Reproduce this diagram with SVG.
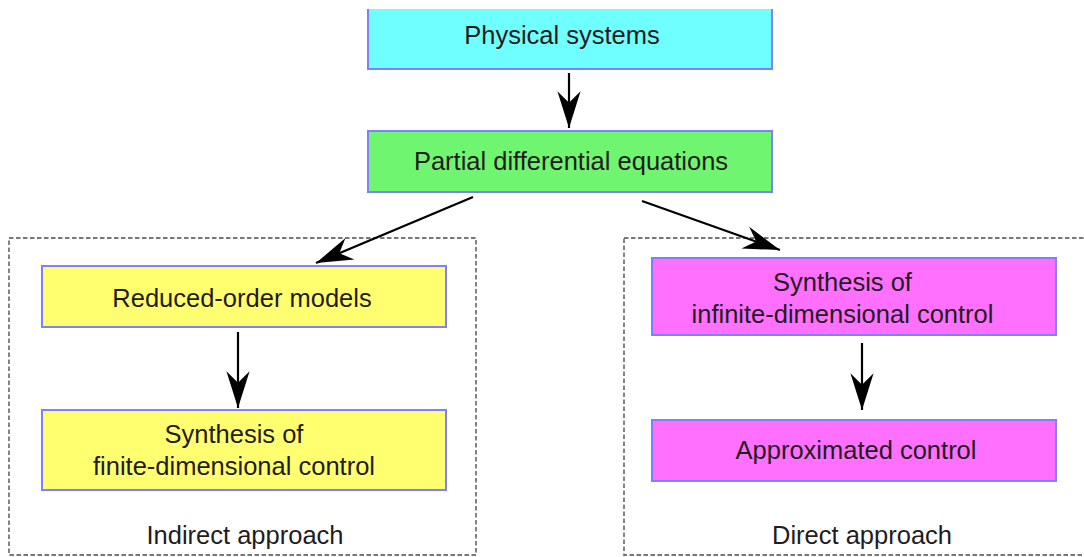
<svg xmlns="http://www.w3.org/2000/svg" width="1084" height="557" viewBox="0 0 1084 557">
  <style>
    .box { stroke: #8080ff; stroke-width: 2; }
    .cyan { fill: #70ffff; }
    .green { fill: #70f570; }
    .yellow { fill: #ffff70; }
    .magenta { fill: #ff70ff; }
    .group { fill: none; stroke: #777; stroke-width: 1.8; stroke-dasharray: 4.5 2.5; }
    text { font-family: "Liberation Sans", Arial, sans-serif; font-size: 25.5px; fill: #231c1c; text-anchor: middle; }
    .edge { stroke: #000; stroke-width: 2.2; fill: none; marker-end: url(#head); }
  </style>
  <defs>
    <marker id="head" markerUnits="userSpaceOnUse" markerWidth="40" markerHeight="30" viewBox="-36 -13 38 26" refX="0" refY="0" orient="auto">
      <path d="M0,0 L-35,-11 L-24,0 L-35,11 Z" fill="#000"/>
    </marker>
  </defs>

  <rect width="1084" height="557" fill="#fff"/>

  <!-- approach frames -->
  <g id="indirect-approach">
    <rect class="group" x="9" y="238" width="467" height="317"/>
    <text x="245" y="544">Indirect approach</text>
  </g>
  <g id="direct-approach">
    <rect class="group" x="624" y="238" width="480" height="317"/>
    <text x="862" y="544">Direct approach</text>
  </g>

  <g id="physical-systems">
    <rect class="cyan" x="368" y="9" width="404" height="60"/>
    <path class="box" fill="none" d="M368,9 V69 H772 V9"/>
    <text x="562" y="44">Physical systems</text>
  </g>

  <g id="pde">
    <rect class="box green" x="368" y="131" width="404" height="61"/>
    <text x="571" y="170">Partial differential equations</text>
  </g>

  <g id="reduced-order-models">
    <rect class="box yellow" x="42" y="266" width="404" height="61"/>
    <text x="242" y="307">Reduced-order models</text>
  </g>

  <g id="finite-dimensional-control">
    <rect class="box yellow" x="42" y="410" width="404" height="80"/>
    <text x="234" y="443">Synthesis of</text>
    <text x="234" y="475">finite-dimensional control</text>
  </g>

  <g id="infinite-dimensional-control">
    <rect class="box magenta" x="652" y="258" width="404" height="77"/>
    <text x="842.5" y="291">Synthesis of</text>
    <text x="842.5" y="323">infinite-dimensional control</text>
  </g>

  <g id="approximated-control">
    <rect class="box magenta" x="652" y="420" width="404" height="61"/>
    <text x="856" y="459">Approximated control</text>
  </g>

  <g id="connectors">
    <line class="edge" x1="569" y1="73" x2="569" y2="128"/>
    <line class="edge" x1="473" y1="197" x2="316" y2="263"/>
    <line class="edge" x1="642" y1="201" x2="780" y2="250"/>
    <line class="edge" x1="238" y1="332" x2="238" y2="408"/>
    <line class="edge" x1="862" y1="343" x2="862" y2="410"/>
  </g>
</svg>
